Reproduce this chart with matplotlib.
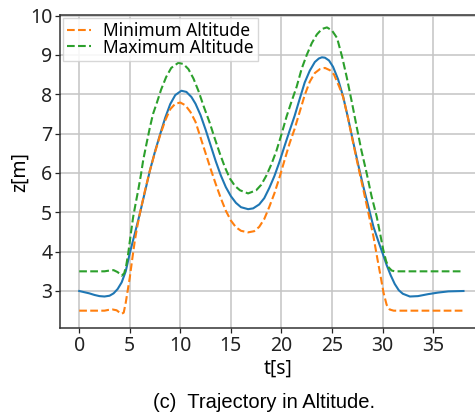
import numpy as np
import matplotlib
matplotlib.use('Agg')
import matplotlib.pyplot as plt

# altitude trajectory
t_z = [0, 0.5, 1.0, 1.5, 2.0, 2.5, 3.0, 3.4, 3.8, 4.2, 4.6, 5.0, 5.5, 6.0, 6.5,
       7.0, 7.5, 8.0, 8.5, 9.0, 9.5, 10.1, 10.6, 11.1, 11.5, 12.0, 12.5, 13.0,
       13.5, 14.0, 14.5, 15.0, 15.5, 16.0, 16.7, 17.2, 17.8, 18.3, 18.8, 19.3,
       19.8, 20.3, 20.8, 21.3, 21.8, 22.3, 22.8, 23.3, 23.7, 24.0, 24.3, 24.7,
       25.1, 25.6, 26.1, 26.6, 27.1, 27.6, 28.1, 28.6, 29.1, 29.6, 30.0, 30.4,
       30.8, 31.2, 31.6, 32.0, 32.7, 33.5, 34.5, 35.5, 36.5, 38]
z = [3.0, 2.97, 2.94, 2.9, 2.87, 2.86, 2.88, 2.94, 3.05, 3.22, 3.5, 3.96, 4.46,
     4.97, 5.52, 6.07, 6.55, 6.98, 7.4, 7.75, 7.98, 8.09, 8.06, 7.93, 7.76,
     7.47, 7.1, 6.7, 6.3, 5.94, 5.64, 5.41, 5.24, 5.13, 5.08, 5.1, 5.2, 5.36,
     5.62, 5.92, 6.28, 6.68, 7.07, 7.45, 7.88, 8.3, 8.6, 8.82, 8.91, 8.94, 8.93,
     8.86, 8.7, 8.38, 7.94, 7.38, 6.78, 6.2, 5.65, 5.14, 4.63, 4.25, 3.96,
     3.66, 3.4, 3.18, 3.02, 2.93, 2.86, 2.87, 2.92, 2.96, 2.99, 3.0]

# lower bound
t_min = [0, 2.5, 2.9, 3.3, 3.7, 4.0, 4.2, 4.4, 4.6, 4.8, 5.0, 5.25, 5.5, 5.75,
         6.0, 6.5, 7.0, 7.5, 8.0, 8.5, 9.0, 9.5, 10.0, 10.5, 11.0, 11.5, 12.0,
         12.5, 13.0, 13.5, 14.0, 14.5, 15.0, 15.5, 16.0, 16.7, 17.3, 17.8, 18.3,
         18.8, 19.3, 19.8, 20.3, 20.8, 21.3, 21.8, 22.3, 22.8, 23.3, 23.8, 24.3,
         24.8, 25.2, 25.7, 26.1, 26.6, 27.1, 27.6, 28.1, 28.6, 29.1, 29.5, 29.8,
         30.1, 30.4, 30.7, 31.1, 38]
z_min = [2.5, 2.5, 2.52, 2.53, 2.51, 2.45, 2.42, 2.45, 2.7, 3.02, 3.34, 3.82,
         4.28, 4.65, 4.97, 5.55, 6.07, 6.53, 6.96, 7.33, 7.62, 7.76, 7.79, 7.72,
         7.55, 7.3, 6.9, 6.5, 6.1, 5.72, 5.36, 5.04, 4.79, 4.62, 4.53, 4.49,
         4.52, 4.63, 4.83, 5.14, 5.48, 5.88, 6.32, 6.75, 7.12, 7.55, 7.98, 8.32,
         8.54, 8.64, 8.67, 8.61, 8.5, 8.2, 7.93, 7.37, 6.75, 6.15, 5.57, 4.98,
         4.38, 3.8, 3.38, 2.95, 2.65, 2.53, 2.5, 2.5]

# upper bound
t_max = [0, 2.5, 3.0, 3.4, 3.8, 4.2, 4.45, 4.65, 4.85, 5.1, 5.34, 5.6, 5.84,
         6.1, 6.33, 6.7, 7.0, 7.3, 7.66, 8.1, 8.6, 9.1, 9.8, 10.3, 10.8, 11.3,
         11.8, 12.3, 12.9, 13.4, 13.9, 14.4, 14.9, 15.4, 15.9, 16.7, 17.5, 18.0,
         18.5, 19.0, 19.5, 20.0, 20.5, 21.0, 21.5, 22.0, 22.5, 23.0, 23.5, 24.0,
         24.5, 25.0, 25.5, 26.0, 26.45, 27.0, 27.44, 27.9, 28.43, 28.9, 29.42,
         29.8, 30.07, 30.35, 30.6, 30.9, 31.2, 38]
z_max = [3.5, 3.5, 3.52, 3.53, 3.48, 3.39, 3.45, 3.65, 3.96, 4.45, 4.89, 5.25,
         5.57, 5.95, 6.33, 6.8, 7.17, 7.5, 7.77, 8.12, 8.44, 8.67, 8.8, 8.77,
         8.64, 8.4, 8.08, 7.7, 7.28, 6.88, 6.5, 6.15, 5.86, 5.67, 5.56, 5.48,
         5.56, 5.7, 5.93, 6.22, 6.56, 6.98, 7.43, 7.82, 8.19, 8.65, 9.0, 9.3,
         9.52, 9.66, 9.7, 9.62, 9.43, 8.95, 8.44, 7.75, 7.17, 6.58, 5.99, 5.42,
         4.89, 4.4, 4.04, 3.76, 3.6, 3.52, 3.5, 3.5]

x_ticks = [0, 5, 10, 15, 20, 25, 30, 35]
y_ticks = [3, 4, 5, 6, 7, 8, 9, 10]

plt.rcParams['font.family'] = ['Noto Sans', 'DejaVu Sans']

fig = plt.figure(figsize=(4.75, 4.18), dpi=100)
ax = fig.add_axes([0.1263, 0.2146, 0.8899, 0.7495])

ax.plot(t_z, z, color='#1f77b4', lw=1.5)
ax.plot(t_min, z_min, '--', color='#ff7f0e', lw=1.5, label='Minimum Altitude')
ax.plot(t_max, z_max, '--', color='#2ca02c', lw=1.5, label='Maximum Altitude')

ax.set_xlim(-1.9, 39.9)
ax.set_ylim(2.052, 10.015)
ax.set_xticks(x_ticks)
ax.set_yticks(y_ticks)
ax.grid(True, color='#c4c4c4', lw=1.1)
ax.set_axisbelow(True)
ax.tick_params(labelsize=14, length=3.5, width=0.9, colors='#222222', pad=2)
for s in ax.spines.values():
    s.set_color('#333333')
    s.set_linewidth(1.1)

ax.set_xlabel('t[s]', fontsize=14, labelpad=0)
ax.xaxis.set_label_coords(0.516, -0.097)
ax.set_ylabel('z[m]', fontsize=14, labelpad=0)

ax.legend(loc='upper left', fontsize=12.5, handlelength=1.4, handletextpad=0.7,
          borderpad=0.25, labelspacing=-0.08, borderaxespad=0.15,
          framealpha=0.85, edgecolor='#d0d0d0', fancybox=False)

fig.text(0.555, 0.024, '(c)  Trajectory in Altitude.', ha='center',
         va='baseline', fontsize=14.5, family='Liberation Sans')

fig.savefig('out.png', dpi=100)
